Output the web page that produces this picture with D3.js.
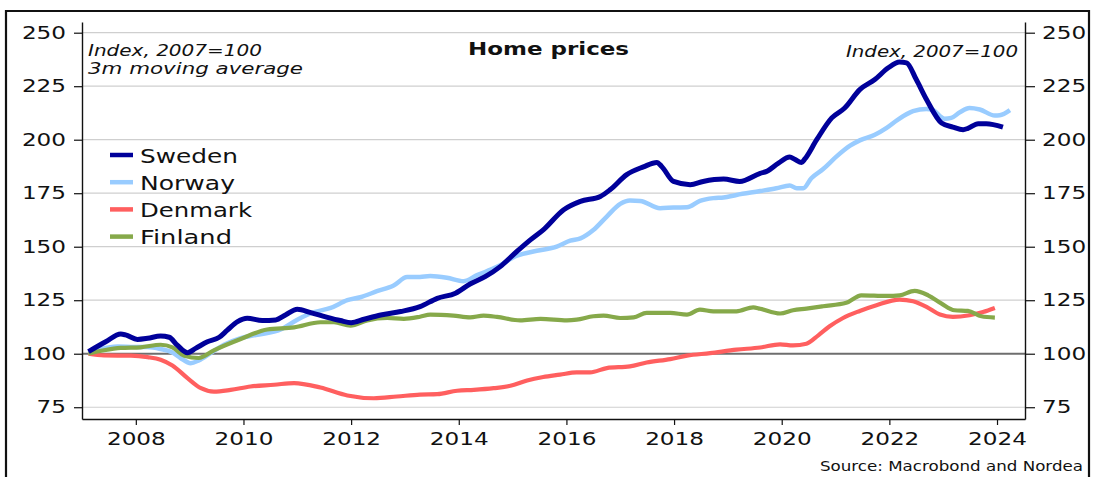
<!DOCTYPE html>
<html>
<head>
<meta charset="utf-8">
<script src="https://cdn.jsdelivr.net/npm/d3@7"></script>
<style>
  html, body { margin: 0; padding: 0; background: #fff; }
  svg { display: block; }
  text { font-family: "DejaVu Sans", sans-serif; fill: #111; }
</style>
</head>
<body>
<svg id="chart" width="1094" height="477"></svg>
<script>
// ---- Data (decimal year, index 2007=100) ----
const seriesNames = ["Sweden", "Norway", "Denmark", "Finland"];
const seriesColors = ["#00009a", "#99ccff", "#ff5f5f", "#86a94a"];

const sweden = [[2007.12,101],[2007.44,105.6],[2007.72,109.2],[2007.81,108.8],[2008.03,106.7],[2008.22,107.2],[2008.46,108.3],[2008.62,107.7],[2008.77,104],[2008.96,100.5],[2009.11,102.5],[2009.33,105.6],[2009.55,107.7],[2009.7,111],[2009.89,115],[2010.07,116.6],[2010.35,115.5],[2010.6,115.8],[2010.78,118.1],[2011.0,120.8],[2011.25,119.2],[2011.56,117],[2011.8,115.5],[2012.0,114.5],[2012.24,116.1],[2012.55,118.1],[2012.92,119.7],[2013.28,122],[2013.6,125.9],[2013.94,128.3],[2014.21,132.6],[2014.49,136],[2014.77,140.7],[2015.08,147.8],[2015.33,153.2],[2015.57,157.9],[2015.95,167.3],[2016.26,171.2],[2016.63,173.5],[2016.81,176.6],[2017.12,183.7],[2017.43,187.3],[2017.68,189.4],[2017.77,187.5],[2017.99,180.5],[2018.3,179],[2018.54,180.5],[2018.92,181.6],[2019.22,180.5],[2019.6,184.3],[2019.72,185.2],[2019.94,189.1],[2020.15,191.9],[2020.24,190.9],[2020.37,189.4],[2020.43,191],[2020.65,200],[2020.93,210.2],[2021.17,214.8],[2021.45,223.4],[2021.73,228.1],[2021.98,233.6],[2022.19,236.3],[2022.32,235.9],[2022.5,228.1],[2022.69,218.8],[2022.97,207.8],[2023.18,205.9],[2023.37,204.7],[2023.46,205.3],[2023.65,207.5],[2023.8,207.5],[2024.11,205.9]];

const norway = [[2007.12,100.3],[2007.35,102.2],[2007.66,103.4],[2007.97,103.1],[2008.22,103.1],[2008.46,102.2],[2008.68,100.6],[2008.83,98],[2009.02,95.6],[2009.17,96.9],[2009.39,100.3],[2009.64,104.2],[2009.95,107.3],[2010.26,108.9],[2010.69,111.3],[2011.0,115.9],[2011.31,119.4],[2011.62,121.4],[2011.93,125],[2012.17,126.4],[2012.48,129.2],[2012.79,131.9],[2013.04,135.8],[2013.28,135.9],[2013.47,136.3],[2013.78,135.5],[2014.09,133.9],[2014.34,136.7],[2014.71,140.6],[2015.08,145.8],[2015.45,148.1],[2015.82,150],[2016.07,152.8],[2016.26,153.9],[2016.5,157.8],[2016.75,164.1],[2017.0,170],[2017.18,171.6],[2017.37,171.4],[2017.74,168],[2017.99,168.3],[2018.24,168.4],[2018.48,171.4],[2018.73,172.7],[2018.92,173],[2019.16,174.2],[2019.6,176],[2019.9,177.3],[2020.15,178.6],[2020.28,177.3],[2020.4,177.3],[2020.55,182],[2020.77,186.3],[2021.02,192.2],[2021.27,197.2],[2021.45,199.7],[2021.73,202.3],[2021.95,205.5],[2022.16,209.4],[2022.44,213.3],[2022.69,214.4],[2022.81,213.8],[2023.03,209.8],[2023.15,210.2],[2023.31,212.8],[2023.49,214.8],[2023.68,214.1],[2023.96,211.3],[2024.05,211.4],[2024.24,213.8]];

const denmark = [[2007.12,100],[2007.41,99.2],[2007.91,99.1],[2008.22,98.4],[2008.46,97.2],[2008.68,94.5],[2008.96,88.6],[2009.21,83.9],[2009.45,82.3],[2009.76,83.1],[2010.13,84.7],[2010.57,85.5],[2010.94,86.3],[2011.43,84.2],[2011.93,80.5],[2012.42,79.2],[2012.85,80],[2013.28,80.9],[2013.6,81.1],[2013.97,82.7],[2014.28,83.1],[2014.65,83.9],[2014.96,85],[2015.27,87.5],[2015.57,89.1],[2015.88,90.2],[2016.19,91.3],[2016.44,91.3],[2016.75,93.3],[2017.18,94.1],[2017.49,95.9],[2017.93,97.5],[2018.24,99.1],[2018.67,100.3],[2019.16,101.9],[2019.6,102.9],[2019.97,104.4],[2020.21,103.9],[2020.46,104.7],[2020.68,108.6],[2020.89,112.8],[2021.14,116.7],[2021.45,120],[2021.76,122.7],[2022.19,125.3],[2022.44,124.5],[2022.69,121.9],[2022.94,118.3],[2023.18,117.2],[2023.49,118],[2023.74,119.5],[2023.96,121.4]];

const finland = [[2007.12,100],[2007.41,101.6],[2007.72,102.7],[2008.09,103],[2008.46,104.2],[2008.68,103],[2008.9,99.1],[2009.17,98],[2009.45,101.6],[2009.95,106.9],[2010.44,111.3],[2010.94,112.3],[2011.43,114.7],[2011.68,114.7],[2011.99,113.1],[2012.3,115.6],[2012.67,116.7],[2012.98,116.3],[2013.28,117.3],[2013.47,118.3],[2013.9,117.8],[2014.21,117],[2014.46,117.8],[2014.71,117.2],[2015.14,115.6],[2015.52,116.3],[2016.01,115.6],[2016.19,115.9],[2016.5,117.5],[2016.69,117.8],[2017.0,116.7],[2017.25,117],[2017.49,119.1],[2017.93,119.1],[2018.24,118.3],[2018.48,120.6],[2018.73,119.8],[2019.16,119.8],[2019.47,121.7],[2019.6,121],[2019.97,118.8],[2020.21,120.3],[2020.46,121.1],[2020.77,122.2],[2021.2,123.8],[2021.48,127.3],[2021.95,127],[2022.19,127.3],[2022.47,129.4],[2022.72,127.3],[2022.97,123.4],[2023.21,120.3],[2023.46,120],[2023.71,117.5],[2023.96,116.9]];

const yTicks = [75, 100, 125, 150, 175, 200, 225, 250];
const xTicks = [2008, 2010, 2012, 2014, 2016, 2018, 2020, 2022, 2024];

// ---- Layout ----
const svg = d3.select("#chart");
const L = 82, R = 1025, T = 22, B = 419;
const x = d3.scaleLinear().domain([2007, 2024.52]).range([L, R]);
const y = d3.scaleLinear().domain([69.5, 255]).range([B, T]);

// Outer frame
svg.append("path")
  .attr("d", "M6,480 V11 H1089 V480")
  .attr("fill", "none").attr("stroke", "#111").attr("stroke-width", 2.2);

// Gridlines
svg.append("g").selectAll("line").data(yTicks.filter(v => v !== 100)).join("line")
  .attr("x1", L).attr("x2", R)
  .attr("y1", d => y(d)).attr("y2", d => y(d))
  .attr("stroke", "#cfcfcf").attr("stroke-width", 1.2);
svg.append("line")
  .attr("x1", L).attr("x2", R).attr("y1", y(100)).attr("y2", y(100))
  .attr("stroke", "#6e6e6e").attr("stroke-width", 2);

function styleAxis(g) {
  g.select(".domain").attr("stroke", "#111").attr("stroke-width", 1.4);
  g.selectAll(".tick line").attr("stroke", "#111").attr("stroke-width", 1.2);
  g.selectAll(".tick text")
    .attr("fill", "#111")
    .style("font-family", "'DejaVu Sans', sans-serif")
    .style("font-size", "17px");
}

const gL = svg.append("g").attr("transform", `translate(${L},0)`)
  .call(d3.axisLeft(y).tickValues(yTicks).tickSize(8).tickPadding(8).tickSizeOuter(0));
styleAxis(gL);
const gR = svg.append("g").attr("transform", `translate(${R},0)`)
  .call(d3.axisRight(y).tickValues(yTicks).tickSize(10).tickPadding(7).tickSizeOuter(0));
styleAxis(gR);
const gB = svg.append("g").attr("transform", `translate(0,${B})`)
  .call(d3.axisBottom(x).tickValues(xTicks).tickFormat(d3.format("d")).tickSize(6).tickPadding(8).tickSizeOuter(0));
styleAxis(gB);

// stretch tick labels horizontally (reference font is wide)
[gL, gR, gB].forEach(g => g.selectAll(".tick text").each(function () {
  const w = this.getComputedTextLength();
  d3.select(this).attr("textLength", w * 1.36).attr("lengthAdjust", "spacingAndGlyphs");
}));

// Series lines
const line = d3.line().x(d => x(d[0])).y(d => y(d[1])).curve(d3.curveMonotoneX);
const allSeries = [sweden, norway, denmark, finland];
const widths = [5, 4.5, 4.2, 4.2];
const drawOrder = [2, 1, 3, 0];
drawOrder.forEach(i => {
  svg.append("path").datum(allSeries[i])
    .attr("d", line)
    .attr("fill", "none")
    .attr("stroke", seriesColors[i])
    .attr("stroke-width", widths[i])
    .attr("stroke-linejoin", "round");
});

// Texts
function addText(txt, px, py, opts) {
  const t = svg.append("text").attr("x", px).attr("y", py).text(txt)
    .style("font-size", opts.size + "px")
    .attr("text-anchor", opts.anchor || "start");
  if (opts.bold) t.style("font-weight", "bold");
  if (opts.italic) t.style("font-style", "italic");
  if (opts.width) t.attr("textLength", opts.width).attr("lengthAdjust", "spacingAndGlyphs");
  return t;
}
addText("Home prices", 548.5, 55, { size: 18, bold: true, anchor: "middle", width: 161 });
addText("Index, 2007=100", 88, 56, { size: 16, italic: true, width: 174 });
addText("3m moving average", 88, 74, { size: 16, italic: true, width: 215 });
addText("Index, 2007=100", 1018, 57, { size: 16, italic: true, anchor: "end", width: 172 });
addText("Source: Macrobond and Nordea", 1083, 471, { size: 14, anchor: "end", width: 263 });

// Legend
const legendY = [155, 182.2, 209.4, 236.6];
const legendW = [98, 95, 112, 92];
const lg = svg.append("g");
seriesNames.forEach((name, i) => {
  lg.append("line").attr("x1", 110).attr("x2", 133)
    .attr("y1", legendY[i]).attr("y2", legendY[i])
    .attr("stroke", seriesColors[i]).attr("stroke-width", 4.5);
  lg.append("text").attr("x", 140).attr("y", legendY[i] + 7.5).text(name)
    .style("font-size", "19px")
    .attr("textLength", legendW[i]).attr("lengthAdjust", "spacingAndGlyphs");
});
</script>
</body>
</html>
